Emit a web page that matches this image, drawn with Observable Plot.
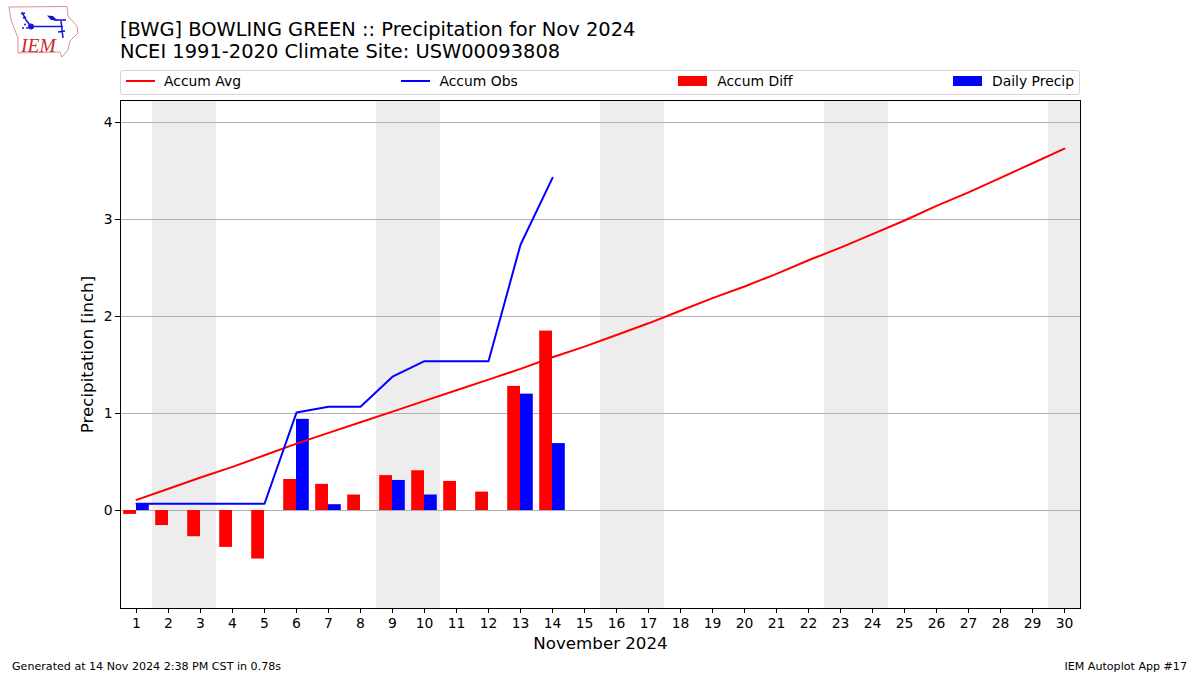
<!DOCTYPE html>
<html>
<head>
<meta charset="utf-8">
<script src="https://cdn.jsdelivr.net/npm/d3@7"></script>
<script src="https://cdn.jsdelivr.net/npm/@observablehq/plot@0.6"></script>
<style>
html,body{margin:0;padding:0;background:#fff;overflow:hidden;width:1200px;height:675px;font-family:"DejaVu Sans",sans-serif;color:#000}
#head{position:relative;height:96px}
#logo{position:absolute;left:0;top:0}
#title{position:absolute;left:120px;top:18.5px;font-size:19.45px;line-height:22px;white-space:nowrap}
#legend{position:absolute;left:120px;top:70px;width:960px;height:25px;box-sizing:border-box;border:1px solid #d5d5d5;border-radius:3px;display:flex;justify-content:space-between;align-items:center;padding:0 5px 3px 5px;font-size:13.9px}
.item{display:flex;align-items:center;white-space:nowrap}
.sw{width:29px;height:10px;display:block;margin-right:10px}
.ln{width:29px;height:2px;display:block;margin-right:9px}
#chart svg{display:block}
#foot{position:relative;height:23px;font-size:11.1px;display:flex;justify-content:space-between;padding:8px 13px 0 12px;line-height:13px;box-sizing:border-box}
</style>
</head>
<body>
<div id="head">
<svg id="logo" width="90" height="62" viewBox="0 0 90 62">
<path d="M9 7L67 6.5L68 16L77 26L78 33L70 41L68 50L62 57L60 52L18 53L18 38L11 20Z" fill="none" stroke="#e09090" stroke-width="1"/>
<g stroke="#1515d8" stroke-width="1.5" fill="none">
<path d="M31 26.5H63M22 12L26 20L31 26.5M21 14L25 13M23 18L26 17M55 20H66M61 21L63 38M58 32L65 31"/>
</g>
<circle cx="31" cy="26.5" r="3" fill="#1515d8"/>
<path d="M47 15.5L53 16L58 21L51 20Z" fill="#1515d8"/>
<circle cx="25" cy="24.5" r="1" fill="#1515d8"/><circle cx="23" cy="28" r="1" fill="#1515d8"/><circle cx="27" cy="28" r="1" fill="#1515d8"/>
<text x="21" y="52" font-family="Liberation Serif" font-style="italic" font-size="19.5" fill="#cc2a2a">IEM</text>
</svg>
<div id="title">[BWG] BOWLING GREEN :: Precipitation for Nov 2024<br>NCEI 1991-2020 Climate Site: USW00093808</div>
<div id="legend">
<div class="item"><span class="ln" style="background:#ff0000"></span><span>Accum Avg</span></div>
<div class="item"><span class="ln" style="background:#0000ff"></span><span>Accum Obs</span></div>
<div class="item"><span class="sw" style="background:#ff0000"></span><span>Accum Diff</span></div>
<div class="item"><span class="sw" style="background:#0000ff"></span><span>Daily Precip</span></div>
</div>
</div>
<div id="chart"></div>
<div id="foot"><span>Generated at 14 Nov 2024 2:38 PM CST in 0.78s</span><span>IEM Autoplot App #17</span></div>
<script>
const days = d3.range(1, 31);
const accumAvg = [0.11,0.225,0.34,0.45,0.57,0.69,0.80,0.91,1.02,1.13,1.24,1.35,1.46,1.58,1.69,1.81,1.93,2.06,2.19,2.31,2.44,2.58,2.71,2.85,2.99,3.14,3.28,3.43,3.58,3.73];
const obsDays = [1,2,3,4,5,6,7,8,9,10,11,12,13,14];
const accumObs = [0.07,0.07,0.07,0.07,0.07,1.01,1.07,1.07,1.38,1.54,1.54,1.54,2.74,3.43];
const accumDiff = [-0.04,-0.155,-0.27,-0.38,-0.50,0.32,0.27,0.16,0.36,0.41,0.30,0.19,1.28,1.85];
const dailyPrecip = [0.07,0,0,0,0,0.94,0.06,0,0.31,0.16,0,0,1.20,0.69];
const weekendStart = [1.5,8.5,15.5,22.5,29.5];
const weekendEnd = [3.5,10.5,17.5,24.5,30.5];
const yTicks = [0,1,2,3,4];

const avgRows = days.map((d,i)=>({d,v:accumAvg[i]}));
const obsRows = obsDays.map((d,i)=>({d,v:accumObs[i]}));
const diffRows = obsDays.map((d,i)=>({d,v:accumDiff[i]}));
const dailyRows = obsDays.map((d,i)=>({d,v:dailyPrecip[i]})).filter(r=>r.v>0);
const weekends = weekendStart.map((s,i)=>({s,e:weekendEnd[i]}));
const barW = 0.4;

const chart = Plot.plot({
  width: 1200,
  height: 556,
  marginLeft: 120,
  marginRight: 120,
  marginTop: 4,
  marginBottom: 44,
  style: {fontFamily: '"DejaVu Sans", sans-serif', fontSize: "13.9px", color: "#000", background: "#fff", overflow: "visible"},
  x: {type: "linear", domain: [0.5, 30.5]},
  y: {domain: [-1.01, 4.227]},
  marks: [
    Plot.rect(weekends, {x1: "s", x2: "e", fill: "#ededed"}),
    Plot.ruleY(yTicks, {stroke: "#b0b0b0", strokeWidth: 1.1}),
    Plot.rect(diffRows, {x1: r=>r.d-barW, x2: "d", y1: 0, y2: "v", fill: "#ff0000", inset: 0}),
    Plot.rect(dailyRows, {x1: "d", x2: r=>r.d+barW, y1: 0, y2: "v", fill: "#0000ff", inset: 0}),
    Plot.line(avgRows, {x: "d", y: "v", stroke: "#ff0000", strokeWidth: 2, curve: "linear"}),
    Plot.line(obsRows, {x: "d", y: "v", stroke: "#0000ff", strokeWidth: 2, curve: "linear"}),
    Plot.frame({stroke: "#000", strokeWidth: 1, strokeOpacity: 1}),
    Plot.axisX({ticks: days, tickFormat: d=>String(d), tickSize: 5, tickPadding: 5, label: null, strokeOpacity: 1}),
    Plot.axisY({ticks: yTicks, tickFormat: d=>String(d), tickSize: 5, tickPadding: 3, label: null, strokeOpacity: 1}),
    Plot.text(["November 2024"], {frameAnchor: "bottom", dy: 40, fontSize: 16.67}),
    Plot.text(["Precipitation [inch]"], {frameAnchor: "left", textAnchor: "middle", dx: -33, rotate: -90, fontSize: 16.67})
  ]
});
document.getElementById("chart").appendChild(chart);
</script>
</body>
</html>
